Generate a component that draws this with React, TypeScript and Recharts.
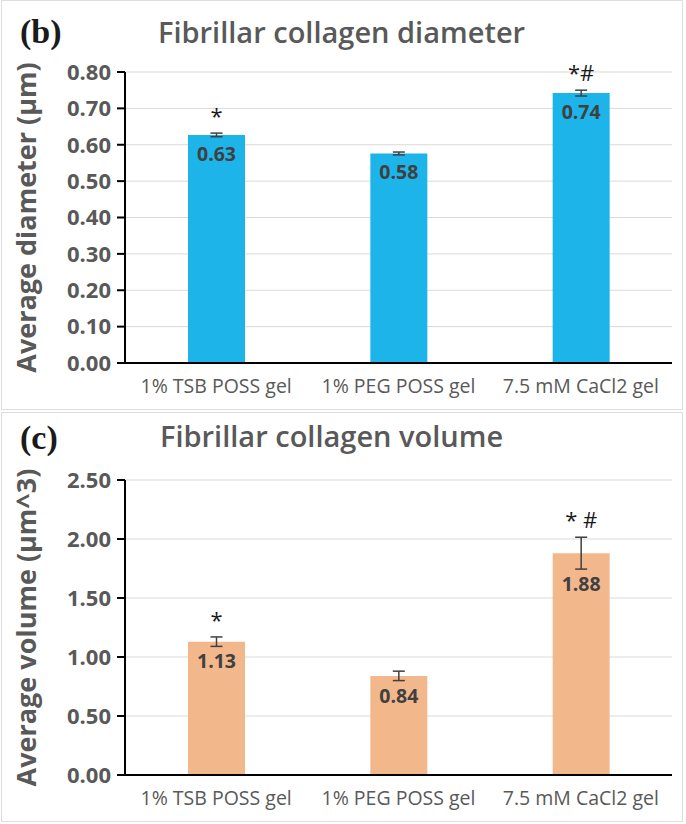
import React from 'react'
import { Bar, BarChart, CartesianGrid, ErrorBar, LabelList, XAxis, YAxis } from 'recharts'

const categories = ['1% TSB POSS gel', '1% PEG POSS gel', '7.5 mM CaCl2 gel']

const diameterValues = [0.627, 0.576, 0.742]
const diameterErrors = [0.005, 0.004, 0.008]
const diameterMarks = ['*', '', '*#']
const diameterTicks = [0, 0.1, 0.2, 0.3, 0.4, 0.5, 0.6, 0.7, 0.8]

const volumeValues = [1.13, 0.84, 1.88]
const volumeErrors = [0.04, 0.04, 0.135]
const volumeMarks = ['*', '', '* #']
const volumeTicks = [0, 0.5, 1, 1.5, 2, 2.5]

const FONT = '"Open Sans", Lato, sans-serif'
const GRAY = '#595959'
const DARK = '#404040'

type PanelProps = {
  tag: string
  title: string
  titleLeft: number
  titleTop: number
  tagTop: number
  yLabel: string
  values: number[]
  errors: number[]
  marks: string[]
  ticks: number[]
  color: string
  top: number
  marginTop: number
}

function Panel({
  tag,
  title,
  titleLeft,
  titleTop,
  tagTop,
  yLabel,
  values,
  errors,
  marks,
  ticks,
  color,
  top,
  marginTop,
}: PanelProps) {
  const data = categories.map((name, i) => ({ name, value: values[i], err: errors[i] }))
  const max = ticks[ticks.length - 1]

  // star / hash markers sit just above the error bar cap
  const renderMark = (props: any) => {
    const { x, y, width, height, index } = props
    const mark = marks[index]
    if (!mark) return null
    const ppu = height / values[index]
    const capY = y - errors[index] * ppu
    return (
      <text
        x={x + width / 2}
        y={capY - 9}
        textAnchor="middle"
        fontSize={22}
        fontFamily={FONT}
        fill="#1a1a1a"
      >
        {mark}
      </text>
    )
  }

  // value label goes inside the bar, pushed below the error bar when it is long
  const renderValue = (props: any) => {
    const { x, y, width, height, value, index } = props
    const ppu = height / values[index]
    const errBottom = y + errors[index] * ppu
    const center = Math.max(y + 19, errBottom + 15)
    return (
      <text
        x={x + width / 2}
        y={center + 7}
        textAnchor="middle"
        fontSize={19.5}
        fontWeight={700}
        fontFamily={FONT}
        fill={DARK}
      >
        {Number(value).toFixed(2)}
      </text>
    )
  }

  return (
    <div
      style={{
        position: 'absolute',
        left: 0,
        top,
        width: 686,
        height: 410,
      }}
    >
      <div
        style={{
          position: 'absolute',
          left: 1,
          top: 0,
          width: 680,
          height: 408,
          border: '1.5px solid #dedede',
        }}
      />
      <div
        style={{
          position: 'absolute',
          left: 20,
          top: tagTop,
          fontFamily: '"Liberation Serif", "DejaVu Serif", serif',
          fontWeight: 700,
          fontSize: 34,
          color: '#1a1a1a',
          lineHeight: 1,
        }}
      >
        {tag}
      </div>
      <div
        style={{
          position: 'absolute',
          left: titleLeft,
          top: titleTop,
          fontFamily: FONT,
          fontWeight: 600,
          fontSize: 29,
          color: GRAY,
          lineHeight: 1,
          whiteSpace: 'nowrap',
        }}
      >
        {title}
      </div>
      <div style={{ position: 'absolute', left: 0, top: 0 }}>
        <BarChart
          width={686}
          height={410}
          data={data}
          margin={{ top: marginTop, right: 14, left: 0, bottom: 17 }}
          barSize={57}
        >
          <CartesianGrid vertical={false} stroke="#d9d9d9" strokeWidth={1} />
          <XAxis
            dataKey="name"
            axisLine={{ stroke: '#000', strokeWidth: 2 }}
            tickLine={false}
            height={30}
            tickMargin={10}
            tick={{ fontSize: 19.5, fill: GRAY, fontFamily: FONT }}
            interval={0}
          />
          <YAxis
            width={125}
            domain={[0, max]}
            ticks={ticks}
            tickFormatter={(v: number) => v.toFixed(2)}
            axisLine={{ stroke: '#000', strokeWidth: 2 }}
            tickLine={{ stroke: '#000', strokeWidth: 2 }}
            tickSize={8}
            tickMargin={6}
            tick={{ fontSize: 22, fill: GRAY, fontWeight: 700, fontFamily: FONT }}
            label={{
              value: yLabel,
              angle: -90,
              position: 'insideLeft',
              offset: 26,
              style: {
                fontSize: 27,
                fontWeight: 700,
                fill: GRAY,
                fontFamily: FONT,
                textAnchor: 'middle',
              },
            }}
          />
          <Bar dataKey="value" fill={color} isAnimationActive={false}>
            <ErrorBar dataKey="err" width={6} stroke={DARK} strokeWidth={1.5} direction="y" />
            <LabelList dataKey="value" content={renderValue} />
            <LabelList dataKey="value" content={renderMark} />
          </Bar>
        </BarChart>
      </div>
    </div>
  )
}

export default function App() {
  return (
    <div
      style={{
        position: 'absolute',
        left: 0,
        top: 0,
        width: 686,
        height: 824,
        background: '#fff',
        overflow: 'hidden',
      }}
    >
      <Panel
        tag="(b)"
        title="Fibrillar collagen diameter"
        titleLeft={158}
        titleTop={17}
        tagTop={15}
        yLabel="Average diameter (μm)"
        values={diameterValues}
        errors={diameterErrors}
        marks={diameterMarks}
        ticks={diameterTicks}
        color="#1DB4EA"
        top={0}
        marginTop={72}
      />
      <Panel
        tag="(c)"
        title="Fibrillar collagen volume"
        titleLeft={160}
        titleTop={9}
        tagTop={9}
        yLabel="Average volume (μm^3)"
        values={volumeValues}
        errors={volumeErrors}
        marks={volumeMarks}
        ticks={volumeTicks}
        color="#F3B78C"
        top={412}
        marginTop={68}
      />
    </div>
  )
}
